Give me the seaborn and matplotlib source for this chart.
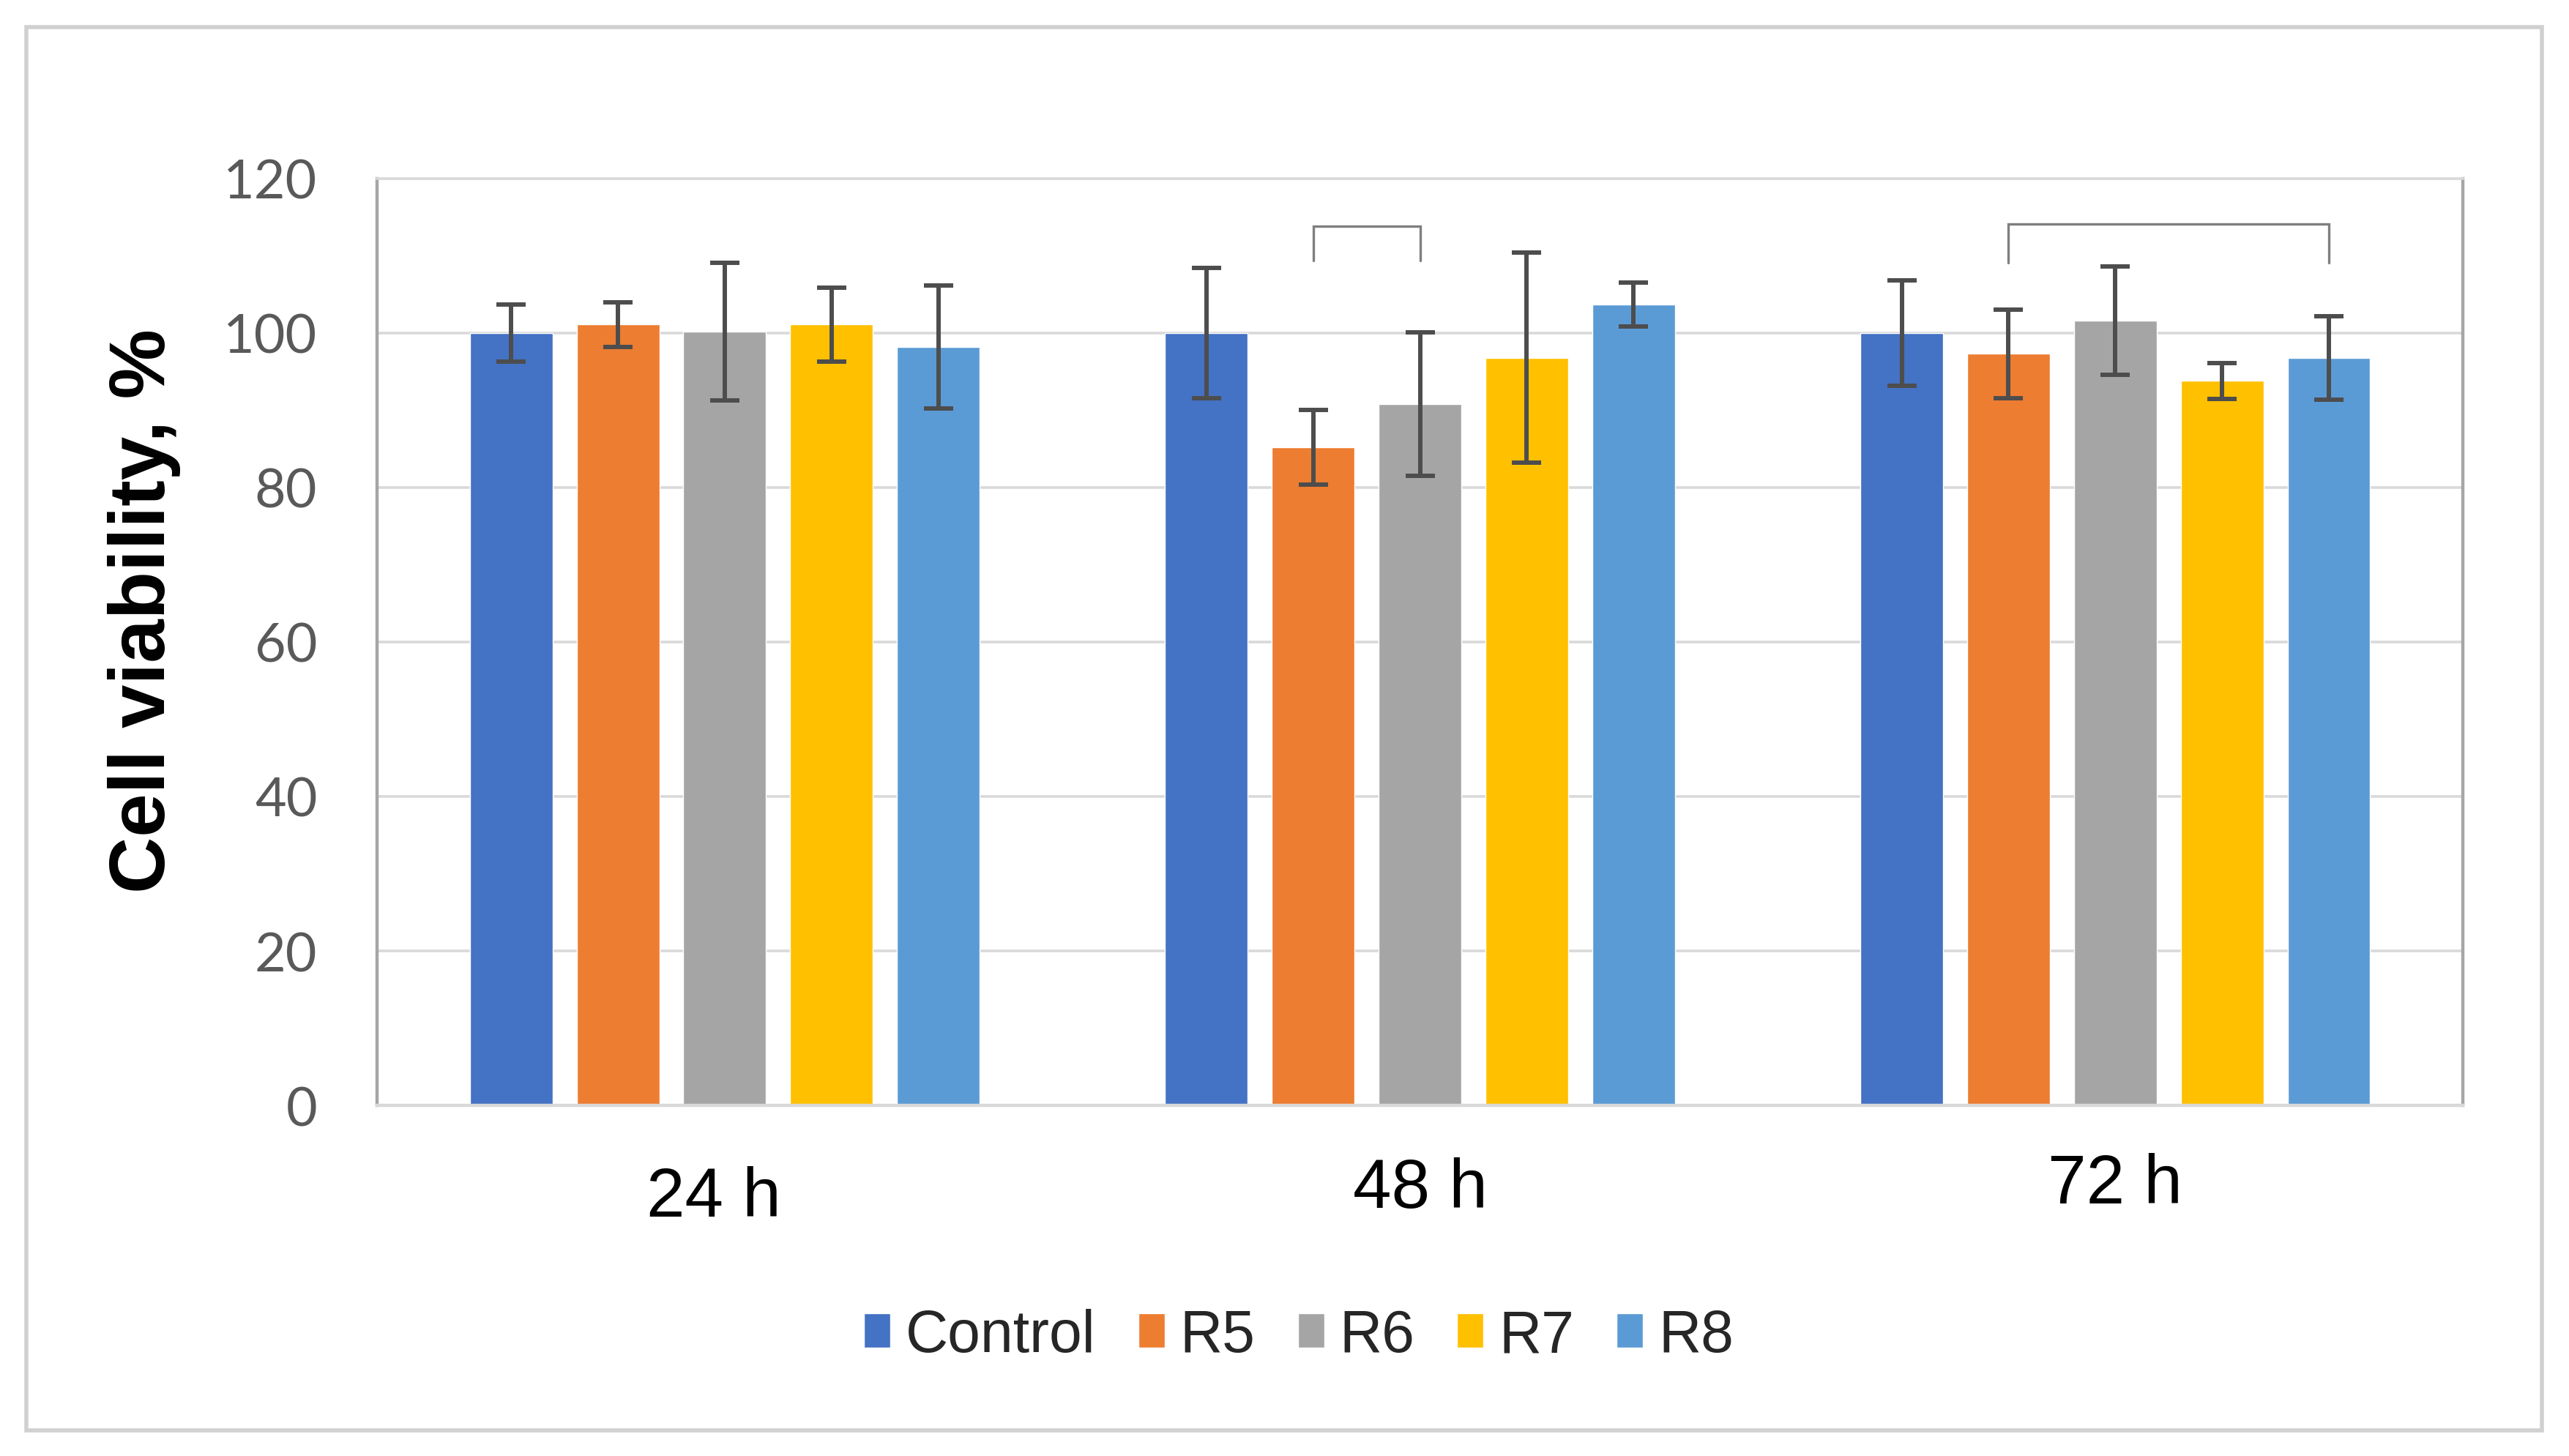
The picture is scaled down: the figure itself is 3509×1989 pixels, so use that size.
import matplotlib
matplotlib.use("Agg")
import matplotlib.pyplot as plt
import seaborn as sns
import pandas as pd
from matplotlib import font_manager
from matplotlib.font_manager import FontProperties
from matplotlib.patches import Rectangle
from matplotlib.transforms import ScaledTranslation

# ---------------- data ----------------
times = ["24 h", "48 h", "72 h"]
groups = ["Control", "R5", "R6", "R7", "R8"]
control = [100.0, 100.0, 100.0]
r5 = [101.1, 85.2, 97.3]
r6 = [100.2, 90.8, 101.6]
r7 = [101.1, 96.8, 93.8]
r8 = [98.2, 103.7, 96.8]
control_err = [3.7, 8.4, 6.8]
r5_err = [2.9, 4.8, 5.7]
r6_err = [8.9, 9.3, 7.0]
r7_err = [4.8, 13.6, 2.3]
r8_err = [8.0, 2.85, 5.4]
colors = ["#4472C4", "#ED7D31", "#A5A5A5", "#FFC000", "#5B9BD5"]
y_ticks = [0, 20, 40, 60, 80, 100, 120]
ylabel = "Cell viability, %"
# significance brackets: (time, first group, last group, top value, leg end value)
brackets = [("48 h", "R5", "R6", 113.8, 109.4),
            ("72 h", "R5", "R8", 114.1, 109.1)]

values = [control, r5, r6, r7, r8]
errors = [control_err, r5_err, r6_err, r7_err, r8_err]
rows = []
for g, vals, errs in zip(groups, values, errors):
    for t, v, e in zip(times, vals, errs):
        rows.append({"Time": t, "Group": g, "Viability": v, "Err": e})
df = pd.DataFrame(rows)


def has_font(name):
    try:
        font_manager.findfont(FontProperties(family=name), fallback_to_default=False)
        return True
    except Exception:
        return False


sns.set_theme(style="white")
plt.rcParams["font.family"] = ["Liberation Sans", "DejaVu Sans"]

narrow = has_font("Liberation Sans Narrow")
if narrow:
    xfam, xsize = "Liberation Sans Narrow", 80
    lfam, lsize = "Liberation Sans Narrow", 65
else:
    xfam, xsize = "Liberation Sans", 68
    lfam, lsize = "Liberation Sans", 58
yfam = "Lato" if has_font("Lato") else "Liberation Sans"

fig = plt.figure(figsize=(35.09, 19.90), dpi=100)
ax = fig.add_axes([0.1468, 0.2407, 0.9587 - 0.1468, 0.8769 - 0.2407])

sns.barplot(data=df, x="Time", y="Viability", hue="Group", order=times,
            hue_order=groups, palette=colors, saturation=1, errorbar=None,
            width=0.768, gap=0.226, ax=ax)

# error bars positioned from the drawn bars
bar_pos = {}
for g, cont, errs in zip(groups, ax.containers, errors):
    xs, hs = [], []
    for t, p in zip(times, cont.patches):
        xc = p.get_x() + p.get_width() / 2
        xs.append(xc)
        hs.append(p.get_height())
        bar_pos[(t, g)] = xc
    ax.errorbar(xs, hs, yerr=errs, fmt="none", ecolor="#4d4d4d",
                elinewidth=4.3, capsize=14.4, capthick=4.3, zorder=4)

# significance brackets
for t, g1, g2, top, leg in brackets:
    x1, x2 = bar_pos[(t, g1)], bar_pos[(t, g2)]
    ax.plot([x1, x1, x2, x2], [leg, top, top, leg], color="#7f7f7f",
            lw=2.4, solid_joinstyle="miter", zorder=4)

ax.set_ylim(0, 120)
ax.set_xlim(-0.5, 2.5)
ax.set_yticks(y_ticks)
ax.set_yticklabels([str(v) for v in y_ticks])
ax.yaxis.grid(True, color="#d9d9d9", lw=2.6)
ax.xaxis.grid(False)
ax.set_axisbelow(True)

for side in ["left", "right"]:
    ax.spines[side].set_color("#a6a6a6")
    ax.spines[side].set_linewidth(3.2)
ax.spines["bottom"].set_color("#d9d9d9")
ax.spines["bottom"].set_linewidth(3.2)
ax.spines["top"].set_color("#d9d9d9")
ax.spines["top"].set_linewidth(2.6)

ax.tick_params(axis="y", length=0, pad=59, labelsize=53, labelcolor="#595959")
ax.tick_params(axis="x", length=0, pad=46, labelsize=xsize, labelcolor="black")
for lab in ax.get_yticklabels():
    lab.set_fontfamily(yfam)
    lab.set_fontsize(53)
xoffsets = {"24 h": (-11, -13), "48 h": (0, -4.3), "72 h": (0, 0)}
for lab in ax.get_xticklabels():
    lab.set_fontfamily(xfam)
    lab.set_fontsize(xsize)
    dx, dy = xoffsets.get(lab.get_text(), (0, 0))
    lab.set_transform(lab.get_transform() +
                      ScaledTranslation(dx / 72, dy / 72, fig.dpi_scale_trans))

ax.set_xlabel("")
ax.set_ylabel(ylabel, fontsize=77, fontweight="bold", color="black",
              family="Liberation Sans")
ax.yaxis.set_label_coords(-0.0941, 0.534)

handles, labels = ax.get_legend_handles_labels()
if ax.get_legend() is not None:
    ax.get_legend().remove()
em = lsize * 100 / 72
fig.legend(handles, labels, loc="center", bbox_to_anchor=(0.5056, 0.0824),
           ncol=5, frameon=False, prop=FontProperties(family=lfam, size=lsize),
           handlelength=36 / em, handleheight=42 / em,
           handletextpad=21 / em, columnspacing=58 / em, borderpad=0)

fig.add_artist(Rectangle((0.0103, 0.0176), 0.9792, 0.9634,
                         transform=fig.transFigure, fill=False,
                         edgecolor="#d0d0d0", lw=4))

fig.savefig("out.png", dpi=100, facecolor="white")
